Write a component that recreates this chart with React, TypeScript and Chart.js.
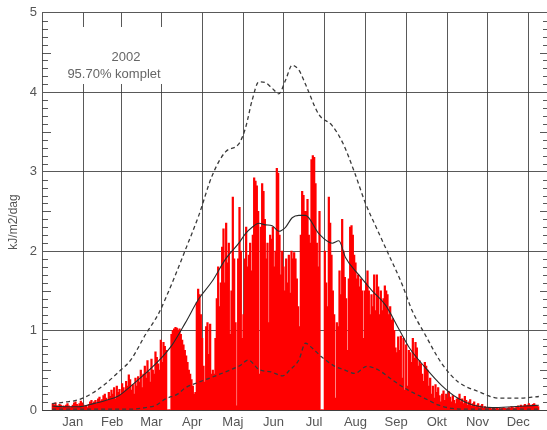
import React, { useEffect, useRef } from 'react';
import { Chart, registerables } from 'chart.js';

Chart.register(...registerables);

// ---- Data ----
const MONTHS = ['Jan', 'Feb', 'Mar', 'Apr', 'Maj', 'Jun', 'Jul', 'Aug', 'Sep', 'Okt', 'Nov', 'Dec'];
const MONTH_STARTS = [0, 31, 59, 90, 120, 151, 181, 212, 243, 273, 304, 334, 365];
const Y_TICKS = [0, 1, 2, 3, 4, 5];
const TITLE_YEAR = '2002';
const TITLE_COMPLETE = '95.70% komplet';
const Y_TITLE = 'kJ/m2/dag';

// daily values, kJ/m2/dag
const JAN = [0.08, 0.06, 0.09, 0.05, 0.04, 0.07, 0.06, 0.03, 0.05, 0.04, 0.06, 0.08, 0.05, 0.03, 0.04, 0.06, 0.09, 0.1, 0.07, 0.05, 0.08, 0.11, 0.09, 0.06, 0.04, 0.05, 0.03, 0.07, 0.1, 0.12, 0.08];
const FEB = [0.1, 0.12, 0.08, 0.14, 0.16, 0.11, 0.13, 0.18, 0.2, 0.15, 0.12, 0.22, 0.17, 0.25, 0.2, 0.28, 0.14, 0.3, 0.22, 0.26, 0.19, 0.33, 0.28, 0.24, 0.36, 0.3, 0.44, 0.38];
const MAR = [0.25, 0.32, 0.2, 0.4, 0.3, 0.42, 0.35, 0.5, 0.28, 0.45, 0.55, 0.4, 0.62, 0.48, 0.35, 0.64, 0.5, 0.45, 0.73, 0.66, 0.58, 0.5, 0.88, 0.6, 0.85, 0.8, 0.75, 0, 0, 0, 0.95];
const APR = [1.0, 1.02, 1.04, 1.03, 1.0, 1.02, 0.95, 0.88, 0.82, 0.75, 0.68, 0.6, 0.5, 0.45, 0.38, 0.3, 0.2, 0.22, 1.35, 1.52, 1.45, 1.2, 0.9, 0.55, 0.35, 1.05, 1.1, 0.7, 1.08, 0.45];
const MAY = [0.5, 0.45, 0.9, 1.4, 1.8, 1.3, 1.6, 2.05, 2.28, 1.6, 2.35, 1.85, 2.1, 0.95, 1.5, 2.68, 1.9, 1.1, 0.05, 1.9, 2.55, 2.0, 0.9, 1.2, 1.9, 2.3, 1.8, 1.95, 2.1, 1.75, 2.2];
const JUN = [2.92, 2.88, 2.82, 2.5, 0.45, 2.3, 2.85, 2.75, 2.4, 1.9, 2.1, 1.1, 2.2, 2.15, 2.3, 1.8, 2.0, 3.04, 2.98, 2.2, 1.7, 2.0, 1.8, 1.5, 1.9, 1.6, 1.95, 1.47, 2.0, 1.9];
const JUL = [1.98, 1.9, 1.65, 1.3, 1.05, 2.2, 2.75, 2.7, 2.5, 2.5, 2.65, 2.2, 2.1, 3.15, 3.2, 3.18, 2.85, 2.1, 1.8, 2.5, 0, 0, 0, 2.0, 1.6, 1.3, 2.68, 2.35, 1.95, 1.5, 1.2];
const AUG = [0.15, 1.1, 1.05, 1.75, 1.45, 2.4, 2.0, 1.67, 1.4, 0.75, 1.65, 2.3, 2.32, 2.2, 1.95, 1.85, 1.65, 1.7, 1.55, 1.65, 1.5, 0.9, 1.5, 1.6, 1.75, 1.5, 1.2, 1.45, 1.3, 1.7, 1.25];
const SEP = [1.7, 1.55, 1.2, 1.5, 1.25, 1.4, 1.56, 1.5, 1.45, 1.2, 1.3, 1.13, 1.15, 1.0, 0.78, 0.72, 0.92, 0.75, 0.93, 0.4, 0.9, 0.25, 0.82, 0.3, 0.75, 0.72, 0.6, 0.9, 0.65, 0.85];
const OCT = [0.78, 0.55, 0.62, 0.58, 0.45, 0.36, 0.6, 0.55, 0.5, 0.3, 0.4, 0.2, 0.3, 0.15, 0.32, 0.22, 0.28, 0.18, 0.1, 0.2, 0.24, 0.12, 0.2, 0.15, 0.23, 0.16, 0.1, 0.18, 0.12, 0.08, 0.14];
const NOV = [0.15, 0.2, 0.1, 0.14, 0.08, 0.17, 0.12, 0.06, 0.1, 0.13, 0.05, 0.08, 0.1, 0.04, 0.06, 0.08, 0.03, 0.05, 0.07, 0.02, 0.04, 0.03, 0.02, 0.03, 0.02, 0.01, 0.02, 0.02, 0.01, 0.02];
const DEC = [0.01, 0.02, 0.01, 0.02, 0.03, 0.02, 0.01, 0.02, 0.03, 0.02, 0.04, 0.03, 0.02, 0.03, 0.04, 0.05, 0.03, 0.06, 0.04, 0.05, 0.07, 0.05, 0.06, 0.08, 0.06, 0.05, 0.07, 0.08, 0.06, 0.05, 0.04];

// upper dashed curve
const UPPER_DAYS = [0, 10, 20, 31, 40, 50, 59, 70, 80, 90, 100, 110, 120, 130, 140, 145, 150, 155, 160, 165, 170, 175, 180, 185, 190, 200, 210, 218, 227, 235, 243, 252, 262, 270, 279, 292, 304, 320, 335, 350, 365];
const UPPER_VALS = [0.08, 0.1, 0.13, 0.22, 0.33, 0.48, 0.63, 0.95, 1.22, 1.6, 2.02, 2.45, 2.95, 3.25, 3.35, 3.55, 3.9, 4.13, 4.12, 4.05, 3.98, 4.15, 4.34, 4.28, 4.1, 3.72, 3.58, 3.36, 2.98, 2.6, 2.3, 1.97, 1.6, 1.25, 0.97, 0.59, 0.36, 0.23, 0.15, 0.15, 0.17];

// solid mean curve
const MEAN_DAYS = [0, 10, 20, 31, 40, 50, 59, 70, 80, 90, 100, 110, 120, 130, 140, 145, 150, 155, 160, 165, 170, 175, 180, 185, 190, 200, 210, 215, 220, 230, 240, 250, 260, 268, 279, 292, 304, 316, 330, 345, 355, 365];
const MEAN_VALS = [0.05, 0.04, 0.04, 0.08, 0.12, 0.18, 0.3, 0.46, 0.62, 0.82, 1.1, 1.4, 1.62, 1.9, 2.1, 2.22, 2.3, 2.35, 2.33, 2.32, 2.25, 2.3, 2.42, 2.45, 2.45, 2.22, 2.1, 2.13, 1.92, 1.7, 1.5, 1.32, 1.02, 0.78, 0.55, 0.31, 0.15, 0.06, 0.03, 0.04, 0.05, 0.06];

// lower dashed curve
const LOWER_DAYS = [0, 31, 59, 70, 78, 85, 94, 100, 110, 121, 133, 141, 147, 155, 164, 173, 178, 185, 190, 195, 202, 212, 220, 227, 236, 245, 255, 267, 279, 290, 300, 310, 365];
const LOWER_VALS = [0.01, 0.01, 0.01, 0.03, 0.06, 0.14, 0.2, 0.28, 0.35, 0.42, 0.5, 0.56, 0.63, 0.51, 0.48, 0.43, 0.5, 0.63, 0.84, 0.78, 0.67, 0.55, 0.5, 0.46, 0.55, 0.5, 0.38, 0.25, 0.15, 0.06, 0.02, 0.01, 0.01];

const GRID = 'rgba(60,60,60,0.85)';
const TEXT = '#555555';
const FONT = "'Liberation Sans', Arial, sans-serif";

export default function App() {
  const ref = useRef<HTMLCanvasElement>(null);

  useEffect(() => {
    const canvas = ref.current;
    if (!canvas) return;
    const daily = [...JAN, ...FEB, ...MAR, ...APR, ...MAY, ...JUN, ...JUL, ...AUG, ...SEP, ...OCT, ...NOV, ...DEC];
    const bars = daily.map((v, i) => ({ x: i + 0.5, y: v }));
    const toPts = (d: number[], v: number[]) => d.map((x, i) => ({ x, y: v[i] }));
    const labelTicks = MONTHS.map((_, i) => (MONTH_STARTS[i] + MONTH_STARTS[i + 1]) / 2);
    const allTicks = [...MONTH_STARTS, ...labelTicks].sort((a, b) => a - b);

    const overlay = {
      id: 'overlay',
      afterDraw(chart: any) {
        const ctx = chart.ctx as CanvasRenderingContext2D;
        const { left, right } = chart.chartArea;
        const ys = chart.scales.y;
        ctx.save();
        // minor ticks on left and right axes (drawn inward)
        ctx.strokeStyle = GRID;
        ctx.lineWidth = 1;
        for (let k = 1; k < 50; k++) {
          if (k % 10 === 0) continue;
          const py = Math.round(ys.getPixelForValue(k / 10)) + 0.5;
          const len = k % 5 === 0 ? 9 : 6;
          ctx.beginPath();
          ctx.moveTo(left, py);
          ctx.lineTo(left + len, py);
          ctx.moveTo(right, py);
          ctx.lineTo(right - len, py);
          ctx.stroke();
        }
        // annotation box
        ctx.fillStyle = '#ffffff';
        ctx.fillRect(52, 27, 140, 57);
        ctx.fillStyle = '#666666';
        ctx.font = `13px ${FONT}`;
        ctx.textAlign = 'center';
        ctx.textBaseline = 'middle';
        ctx.fillText(TITLE_YEAR, 126, 57);
        ctx.fillText(TITLE_COMPLETE, 114, 74);
        // y axis title
        ctx.translate(14, 222);
        ctx.rotate(-Math.PI / 2);
        ctx.fillStyle = TEXT;
        ctx.font = `12px ${FONT}`;
        ctx.fillText(Y_TITLE, 0, 0);
        ctx.restore();
      },
    };

    const chart = new Chart(canvas, {
      type: 'bar',
      data: {
        datasets: [
          {
            type: 'line',
            data: toPts(UPPER_DAYS, UPPER_VALS),
            borderColor: '#3a3a3a',
            borderWidth: 1.3,
            borderDash: [4, 3],
            pointRadius: 0,
            cubicInterpolationMode: 'monotone',
            order: 0,
          },
          {
            type: 'line',
            data: toPts(MEAN_DAYS, MEAN_VALS),
            borderColor: '#2a2a2a',
            borderWidth: 1.1,
            pointRadius: 0,
            cubicInterpolationMode: 'monotone',
            order: 0,
          },
          {
            type: 'line',
            data: toPts(LOWER_DAYS, LOWER_VALS),
            borderColor: '#3a3a3a',
            borderWidth: 1.3,
            borderDash: [4, 3],
            pointRadius: 0,
            cubicInterpolationMode: 'monotone',
            order: 0,
          },
          {
            type: 'bar',
            data: bars,
            backgroundColor: '#ff0000',
            borderWidth: 0,
            barPercentage: 1,
            categoryPercentage: 1,
            inflateAmount: 0.45,
            order: 5,
          },
        ] as any,
      },
      options: {
        animation: false,
        responsive: false,
        devicePixelRatio: 1,
        layout: { padding: { top: 11.2, right: 11, left: 0, bottom: 0 } },
        plugins: { legend: { display: false }, tooltip: { enabled: false } },
        scales: {
          x: {
            type: 'linear',
            min: 0,
            max: 365,
            z: 1,
            afterBuildTicks: (s: any) => {
              s.ticks = allTicks.map((v) => ({ value: v }));
            },
            afterFit: (s: any) => {
              s.height = 20;
            },
            grid: {
              color: (c: any) => (c.tick && MONTH_STARTS.includes(c.tick.value) ? GRID : 'rgba(0,0,0,0)'),
              drawTicks: false,
              lineWidth: 1,
            },
            border: { display: true, color: GRID },
            ticks: {
              autoSkip: false,
              maxRotation: 0,
              minRotation: 0,
              padding: 5,
              color: TEXT,
              font: { family: FONT, size: 13 },
              callback: (v: any) => {
                const i = labelTicks.indexOf(Number(v));
                return i >= 0 ? MONTHS[i] : '';
              },
            },
          },
          y: {
            type: 'linear',
            min: 0,
            max: 5,
            z: 1,
            afterBuildTicks: (s: any) => {
              s.ticks = Y_TICKS.map((v) => ({ value: v }));
            },
            afterFit: (s: any) => {
              s.width = 42;
            },
            grid: { color: GRID, drawTicks: false, lineWidth: 1 },
            border: { display: true, color: GRID },
            ticks: {
              padding: 5,
              color: TEXT,
              font: { family: FONT, size: 13 },
              callback: (v: any) => String(v),
            },
          },
        },
      } as any,
      plugins: [overlay],
    });
    return () => chart.destroy();
  }, []);

  return (
    <div style={{ position: 'absolute', left: 0, top: 0, width: 547, height: 430, overflow: 'hidden', background: '#ffffff' }}>
      <canvas ref={ref} width={560} height={430} style={{ display: 'block', width: 560, height: 430 }} />
    </div>
  );
}
